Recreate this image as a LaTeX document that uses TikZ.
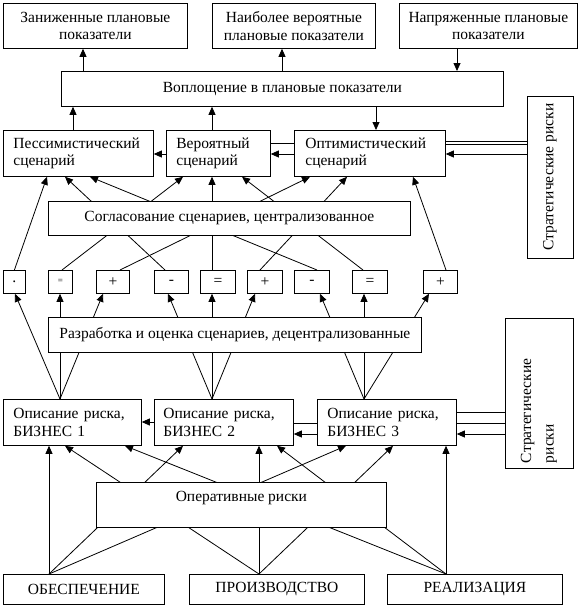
\documentclass[tikz,border=0pt]{standalone}
\usepackage{fontspec}
\setmainfont{Liberation Serif}
\usetikzlibrary{arrows.meta,backgrounds}
\begin{document}
\begin{tikzpicture}[x=1pt,y=-1pt,
  bx/.style={draw, line width=0.8pt, fill=white, inner sep=0pt, anchor=north west,
    font=\fontsize{15.5}{17.5}\selectfont, align=center},
  lbx/.style={bx, align=left, inner xsep=10pt},
  sbx/.style={bx, minimum height=23pt},
  vbx/.style={draw, line width=0.8pt, fill=white, rotate=90, inner sep=0pt,
    font=\fontsize{15.5}{17.5}\selectfont},
  arr/.style={line width=0.8pt, -{Triangle[length=8pt,width=7pt]}},
  ln/.style={line width=0.8pt}]
\useasboundingbox (0,0) rectangle (586,605);

% top row
\node[bx, minimum width=184pt, minimum height=45pt] (top1) at (3,3) {Заниженные плановые\\показатели};
\node[bx, minimum width=163pt, minimum height=45pt] (top2) at (212,3) {Наиболее вероятные\\плановые показатели};
\node[bx, minimum width=178pt, minimum height=45pt] (top3) at (399,3) {Напряженные плановые\\показатели};
\node[bx, minimum width=442pt, minimum height=35pt] (plan) at (61,71) {Воплощение в плановые показатели};

% scenarios
\node[lbx, text width=130pt, minimum height=46pt] (pess) at (3,130) {Пессимистический\\сценарий};
\node[lbx, text width=84pt, minimum height=46pt] (ver) at (166,130) {Вероятный\\сценарий};
\node[lbx, text width=129pt, inner xsep=11pt, minimum height=46pt] (opt) at (294,130) {Оптимистический\\сценарий};
\node[vbx, minimum width=162pt, minimum height=46pt] (strat1) at (550,177) {Стратегические риски};

\node[bx, minimum width=362pt, minimum height=34pt] (sogl) at (48,201) {Согласование сценариев, централизованное};

% small boxes
\node[sbx, minimum width=22pt] (s1) at (3,270) {.};
\node[sbx, minimum width=24pt, font=\fontsize{9}{9}\selectfont] (s2) at (48,270) {=};
\node[sbx, minimum width=33pt] (s3) at (96,270) {+};
\node[sbx, minimum width=34pt] (s4) at (154,270) {-};
\node[sbx, minimum width=35pt] (s5) at (200,270) {=};
\node[sbx, minimum width=35pt] (s6) at (247,270) {+};
\node[sbx, minimum width=35pt] (s7) at (294,270) {-};
\node[sbx, minimum width=35pt] (s8) at (352,270) {=};
\node[sbx, minimum width=34pt] (s9) at (423,270) {+};

\node[bx, minimum width=373pt, minimum height=35pt] (razr) at (48,317) {Разработка и оценка сценариев, децентрализованные};

% business risk descriptions
\node[lbx, text width=118pt, minimum height=46pt] (op1) at (3,399) {Описание риска,\\БИЗНЕС 1};
\node[lbx, text width=121pt, inner xsep=9pt, minimum height=46pt] (op2) at (154,399) {Описание риска,\\БИЗНЕС 2};
\node[lbx, text width=119pt, minimum height=46pt] (op3) at (317,399) {Описание риска,\\БИЗНЕС 3};
\node[vbx, minimum width=150pt, minimum height=68pt, text width=140pt, inner xsep=5pt, align=left] (strat2) at (539,393) {Стратегические\\[5pt]риски};

\node[bx, minimum width=290pt, minimum height=45pt] (oper) at (96,482) {Оперативные риски\\~};

% functions
\node[bx, minimum width=161pt, minimum height=30pt] (f1) at (3,574) {ОБЕСПЕЧЕНИЕ};
\node[bx, minimum width=175pt, minimum height=30pt] (f2) at (189,574) {ПРОИЗВОДСТВО};
\node[bx, minimum width=175pt, minimum height=30pt] (f3) at (387,574) {РЕАЛИЗАЦИЯ};

\begin{pgfonlayer}{background}
\fill[white] (0,0) rectangle (586,605);
% plan level
\draw[arr] (plan.north -| 83,0) -- (top1.south -| 83,0);
\draw[arr] (plan.north -| 282,0) -- (top2.south -| 282,0);
\draw[arr] (top3.south -| 457,0) -- (plan.north -| 457,0);
\draw[arr] (pess.north -| 73,0) -- (plan.south -| 73,0);
\draw[arr] (ver.north -| 212,0) -- (plan.south -| 212,0);
\draw[arr] (plan.south -| 376,0) -- (opt.north -| 376,0);
% scenario links
\draw[arr] (ver.west |- 0,154) -- (pess.east |- 0,154);
\draw[ln] (ver.east |- 0,143) -- (opt.west |- 0,143);
\draw[arr] (opt.west |- 0,154) -- (ver.east |- 0,154);
\draw[ln] (strat1.north |- 0,141.5) -- (opt.east |- 0,141.5);
\draw[ln] (strat1.north |- 0,144) -- (opt.east |- 0,144);
\draw[arr] (strat1.north |- 0,154) -- (opt.east |- 0,154);
% small boxes to scenarios
\draw[arr] (s1.north) -- (pess.south -| 47,0);
\draw[arr] (s2.north -| 62,0) -- (ver.south -| 183,0);
\draw[arr] (s3.north -| 120,0) -- (opt.south -| 310,0);
\draw[arr] (s4.north -| 165,0) -- (pess.south -| 65,0);
\draw[arr] (s5.north -| 212,0) -- (ver.south -| 212,0);
\draw[arr] (s6.north -| 260,0) -- (opt.south -| 347,0);
\draw[arr] (s7.north -| 317,0) -- (pess.south -| 90,0);
\draw[arr] (s8.north -| 363,0) -- (ver.south -| 242,0);
\draw[arr] (s9.north -| 446,0) -- (opt.south -| 413,0);
% descriptions to small boxes
\draw[arr] (op1.north -| 60,0) -- (s1.south -| 15,0);
\draw[arr] (op1.north -| 60,0) -- (s2.south -| 60,0);
\draw[arr] (op1.north -| 60,0) -- (s3.south -| 103,0);
\draw[arr] (op2.north -| 212,0) -- (s4.south -| 168,0);
\draw[arr] (op2.north -| 212,0) -- (s5.south -| 212,0);
\draw[arr] (op2.north -| 212,0) -- (s6.south -| 255,0);
\draw[arr] (op3.north -| 364,0) -- (s7.south -| 320,0);
\draw[arr] (op3.north -| 364,0) -- (s8.south -| 364,0);
\draw[arr] (op3.north -| 364,0) -- (s9.south -| 429,0);
% description links
\draw[arr] (op2.west |- 0,422) -- (op1.east |- 0,422);
\draw[ln] (op2.east |- 0,423) -- (op3.west |- 0,423);
\draw[arr] (op3.west |- 0,434) -- (op2.east |- 0,434);
\draw[ln] (strat2.north |- 0,412) -- (op3.east |- 0,412);
\draw[ln] (strat2.north |- 0,423) -- (op3.east |- 0,423);
\draw[arr] (strat2.north |- 0,434) -- (op3.east |- 0,434);
% functions to descriptions
\draw[arr] (f1.north -| 49,0) -- (op1.south -| 49,0);
\draw[arr] (f1.north -| 49,0) -- (op2.south -| 183,0);
\draw[arr] (f1.north -| 49,0) -- (op3.south -| 346,0);
\draw[arr] (f2.north -| 259,0) -- (op1.south -| 65,0);
\draw[arr] (f2.north -| 259,0) -- (op2.south -| 259,0);
\draw[arr] (f2.north -| 259,0) -- (op3.south -| 393,0);
\draw[arr] (f3.north -| 446,0) -- (op1.south -| 125,0);
\draw[arr] (f3.north -| 446,0) -- (op2.south -| 277,0);
\draw[arr] (f3.north -| 446,0) -- (op3.south -| 446,0);
\end{pgfonlayer}
\end{tikzpicture}
\end{document}
